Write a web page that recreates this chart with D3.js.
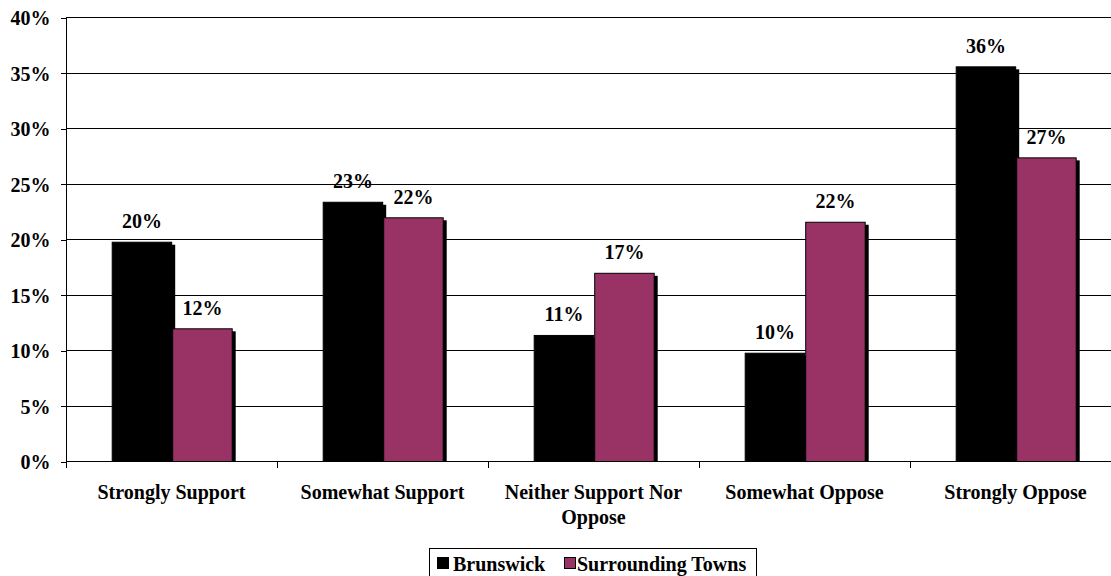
<!DOCTYPE html>
<html>
<head>
<meta charset="utf-8">
<script src="https://cdn.jsdelivr.net/npm/d3@7"></script>
<style>
  html, body { margin: 0; padding: 0; background: #fff; }
  svg { display: block; }
  text { font-family: "Liberation Serif", "Times New Roman", serif; font-weight: bold; font-size: 20px; fill: #000; }
</style>
</head>
<body>
<svg id="chart" width="1111" height="576"></svg>
<script>
// Survey responses by area (percent of respondents)
const categories = ["Strongly Support", "Somewhat Support", "Neither Support Nor Oppose", "Somewhat Oppose", "Strongly Oppose"];
const seriesNames = ["Brunswick", "Surrounding Towns"];
const brunswick = [19.8, 23.4, 11.4, 9.8, 35.6];
const surrounding = [12.0, 22.0, 17.0, 21.6, 27.4];
const yTicks = [0, 5, 10, 15, 20, 25, 30, 35, 40];
const colors = ["#000000", "#993366"];

const seriesValues = [brunswick, surrounding];
const rows = categories.map((c, i) => ({
  category: c,
  values: seriesNames.map((s, k) => ({ series: s, value: seriesValues[k][i] }))
}));

const svg = d3.select("#chart");
const plotLeft = 66, plotRight = 1121, plotTop = 17.5, plotBottom = 461.5;

const x0 = d3.scaleBand().domain(categories).range([plotLeft, plotRight]).padding(0);
const groupHalf = 60.5;
const x1 = d3.scaleBand().domain(seriesNames)
  .range([x0.bandwidth() / 2 - groupHalf + 0.7, x0.bandwidth() / 2 + groupHalf + 0.7]).padding(0);
const y = d3.scaleLinear().domain([0, 40]).range([plotBottom, plotTop]);
const color = d3.scaleOrdinal().domain(seriesNames).range(colors);
const fmt = v => d3.format(".0f")(v) + "%";

// Horizontal gridlines
svg.append("g")
  .selectAll("line")
  .data(yTicks.filter(t => t > 0))
  .join("line")
  .attr("x1", plotLeft).attr("x2", plotRight)
  .attr("y1", d => y(d)).attr("y2", d => y(d))
  .attr("stroke", "#000").attr("stroke-width", 1)
  .attr("shape-rendering", "crispEdges");

// Y axis
const yAxis = svg.append("g")
  .attr("transform", `translate(${plotLeft + 0.5},0)`)
  .call(d3.axisLeft(y).tickValues(yTicks).tickSize(6).tickPadding(10).tickFormat(d => d + "%"));
yAxis.select(".domain").remove();
yAxis.selectAll(".tick line").attr("stroke", "#000").attr("shape-rendering", "crispEdges");
yAxis.selectAll(".tick text").attr("dy", "0.35em").style("font-size", "20px")
  .style("font-family", "\"Liberation Serif\", \"Times New Roman\", serif").style("font-weight", "bold");
svg.append("line")
  .attr("x1", plotLeft + 0.5).attr("x2", plotLeft + 0.5)
  .attr("y1", plotTop).attr("y2", plotBottom + 6)
  .attr("stroke", "#000").attr("shape-rendering", "crispEdges");

// Bars with drop shadows
const groups = svg.append("g")
  .selectAll("g")
  .data(rows)
  .join("g")
  .attr("transform", d => `translate(${x0(d.category)},0)`);

groups.each(function(row) {
  const g = d3.select(this);
  row.values.forEach(v => {
    g.append("rect")
      .attr("x", x1(v.series) + 3)
      .attr("y", y(v.value) + 3)
      .attr("width", x1.bandwidth())
      .attr("height", plotBottom - y(v.value) - 3)
      .attr("fill", "#000");
    g.append("rect")
      .attr("x", x1(v.series) + 0.5)
      .attr("y", y(v.value) + 0.5)
      .attr("width", x1.bandwidth() - 1)
      .attr("height", plotBottom - y(v.value) - 0.5)
      .attr("fill", color(v.series))
      .attr("stroke", "#000").attr("stroke-width", 1);
  });
});

// X axis
svg.append("line")
  .attr("x1", plotLeft).attr("x2", plotRight)
  .attr("y1", plotBottom).attr("y2", plotBottom)
  .attr("stroke", "#000").attr("shape-rendering", "crispEdges");
svg.append("g")
  .selectAll("line")
  .data(categories.slice(1))
  .join("line")
  .attr("x1", d => x0(d) + 0.5).attr("x2", d => x0(d) + 0.5)
  .attr("y1", plotBottom).attr("y2", plotBottom + 6)
  .attr("stroke", "#000").attr("shape-rendering", "crispEdges");

// Category labels (wrapped)
const catLines = {
  "Neither Support Nor Oppose": ["Neither Support Nor", "Oppose"]
};
svg.append("g")
  .selectAll("text")
  .data(categories)
  .join("text")
  .attr("text-anchor", "middle")
  .attr("x", d => x0(d) + x0.bandwidth() / 2)
  .attr("y", 498.5)
  .each(function(d) {
    const lines = catLines[d] || [d];
    d3.select(this).selectAll("tspan")
      .data(lines)
      .join("tspan")
      .attr("x", x0(d) + x0.bandwidth() / 2)
      .attr("dy", (l, i) => i === 0 ? 0 : 25)
      .text(l => l);
  });

// Value labels
groups.each(function(row) {
  d3.select(this).selectAll("text.val")
    .data(row.values)
    .join("text")
    .attr("class", "val")
    .attr("text-anchor", "middle")
    .attr("x", v => x1(v.series) + x1.bandwidth() / 2)
    .attr("y", v => y(v.value) - 13.5)
    .text(v => fmt(v.value));
});

// Legend
const legend = svg.append("g");
legend.append("rect")
  .attr("x", 429.5).attr("y", 548.5)
  .attr("width", 327).attr("height", 34)
  .attr("fill", "#fff").attr("stroke", "#000");
const legendItems = [
  { name: seriesNames[0], sx: 437, tx: 453 },
  { name: seriesNames[1], sx: 564, tx: 577 }
];
legendItems.forEach(it => {
  legend.append("rect")
    .attr("x", it.sx + 0.5).attr("y", 557.5)
    .attr("width", 11).attr("height", 11)
    .attr("fill", color(it.name)).attr("stroke", "#000");
  legend.append("text")
    .attr("x", it.tx).attr("y", 571)
    .text(it.name);
});
</script>
</body>
</html>
